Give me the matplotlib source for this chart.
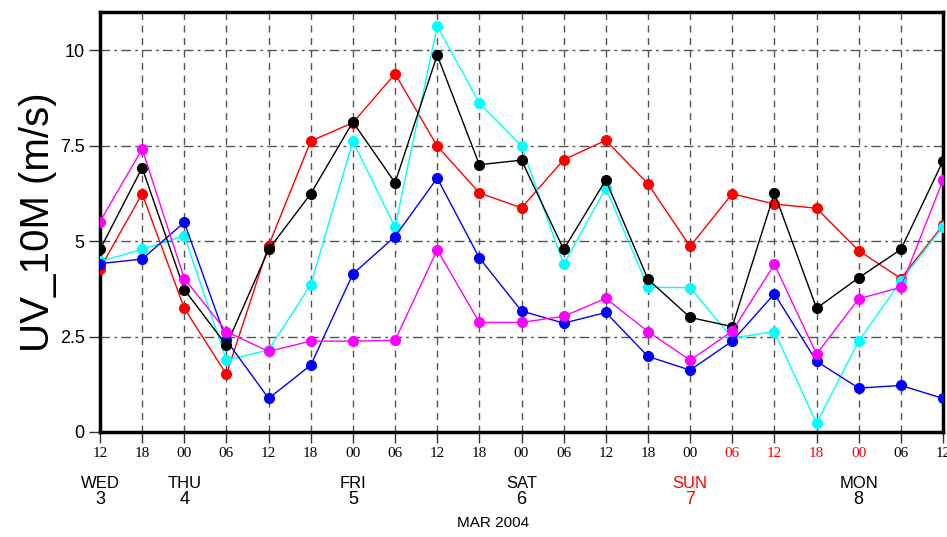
import numpy as np
import matplotlib
matplotlib.use("Agg")
import matplotlib.pyplot as plt

# 6-hourly steps from WED 3 12Z to MON 8 12Z, Mar 2004
hours = ['12', '18', '00', '06', '12', '18', '00', '06', '12', '18', '00',
         '06', '12', '18', '00', '06', '12', '18', '00', '06', '12']
red_hours = [15, 16, 17, 18]
days = [(0, 'WED', '3'), (2, 'THU', '4'), (6, 'FRI', '5'), (10, 'SAT', '6'),
        (14, 'SUN', '7'), (18, 'MON', '8')]

red = [4.28, 6.24, 3.24, 1.51, 4.88, 7.62, 8.1, 9.38, 7.49, 6.26, 5.87,
       7.13, 7.64, 6.5, 4.86, 6.24, 5.97, 5.86, 4.75, 4.02, 5.42]
cyan = [4.47, 4.78, 5.14, 1.88, 2.15, 3.86, 7.62, 5.36, 10.63, 8.62, 7.49,
        4.39, 6.39, 3.79, 3.78, 2.46, 2.63, 0.23, 2.38, 3.95, 5.38]
blue = [4.41, 4.53, 5.49, 2.4, 0.88, 1.75, 4.14, 5.12, 6.65, 4.56, 3.17,
        2.85, 3.13, 1.98, 1.62, 2.38, 3.62, 1.85, 1.15, 1.22, 0.88]
black = [4.78, 6.92, 3.73, 2.27, 4.78, 6.24, 8.12, 6.53, 9.87, 7.0, 7.12,
         4.78, 6.6, 4.0, 3.0, 2.76, 6.26, 3.24, 4.04, 4.78, 7.1]
magenta = [5.51, 7.41, 4.02, 2.63, 2.11, 2.38, 2.38, 2.4, 4.77, 2.87, 2.87,
           3.03, 3.5, 2.63, 1.88, 2.64, 4.39, 2.04, 3.49, 3.79, 6.6]

x = np.arange(len(hours))

fig = plt.figure(figsize=(9.47, 5.37), dpi=100)
ax = fig.add_axes([100 / 947, 1 - 432 / 537, 843 / 947, 420 / 537])

for vals, c in [(red, 'red'), (cyan, 'cyan'), (blue, 'blue'),
                (black, 'black'), (magenta, 'magenta')]:
    ax.plot(x, vals, '-o', color=c, lw=1.0, ms=7, zorder=3)

ax.set_xlim(0, 20)
ax.set_ylim(0, 11)

# grid: dashed verticals, dash-dot horizontals
for xi in x[1:-1]:
    ax.axvline(xi, color='#555555', lw=1.0, ls=(0, (5, 4)), zorder=1)
for yv in [2.5, 5, 7.5, 10]:
    ax.axhline(yv, color='#555555', lw=1.0, ls=(0, (7, 3, 2, 3)), zorder=1)

ax.set_yticks([0, 2.5, 5, 7.5, 10])
ax.set_yticklabels(['0', '2.5', '5', '7.5', '10'], fontsize=13,
                   family='Liberation Sans')
ax.set_xticks(x)
ax.set_xticklabels(hours, fontsize=11, family='Liberation Serif')
for i, lab in enumerate(ax.get_xticklabels()):
    if i in red_hours:
        lab.set_color('red')
ax.tick_params(axis='both', direction='out', length=8, width=1, pad=3,
               color='#333333')

for s in ax.spines.values():
    s.set_linewidth(2.5)

ax.set_ylabel('UV_10M (m/s)', fontsize=29, family='Liberation Sans',
              labelpad=2)

for i, name, num in days:
    c = 'red' if name == 'SUN' else 'black'
    xf = ax.transData.transform((i, 0))[0] / fig.bbox.width
    fig.text(xf, 1 - 484 / 537, name, ha='center', va='center', fontsize=12,
             color=c, family='Liberation Sans', stretch='condensed')
    fig.text(xf, 1 - 499 / 537, num, ha='center', va='center', fontsize=13,
             color=c, family='Liberation Sans')

fig.text(493 / 947, 1 - 523 / 537, 'MAR 2004', ha='center', va='center',
         fontsize=11, family='Liberation Sans')

fig.savefig('out.png', dpi=100)
